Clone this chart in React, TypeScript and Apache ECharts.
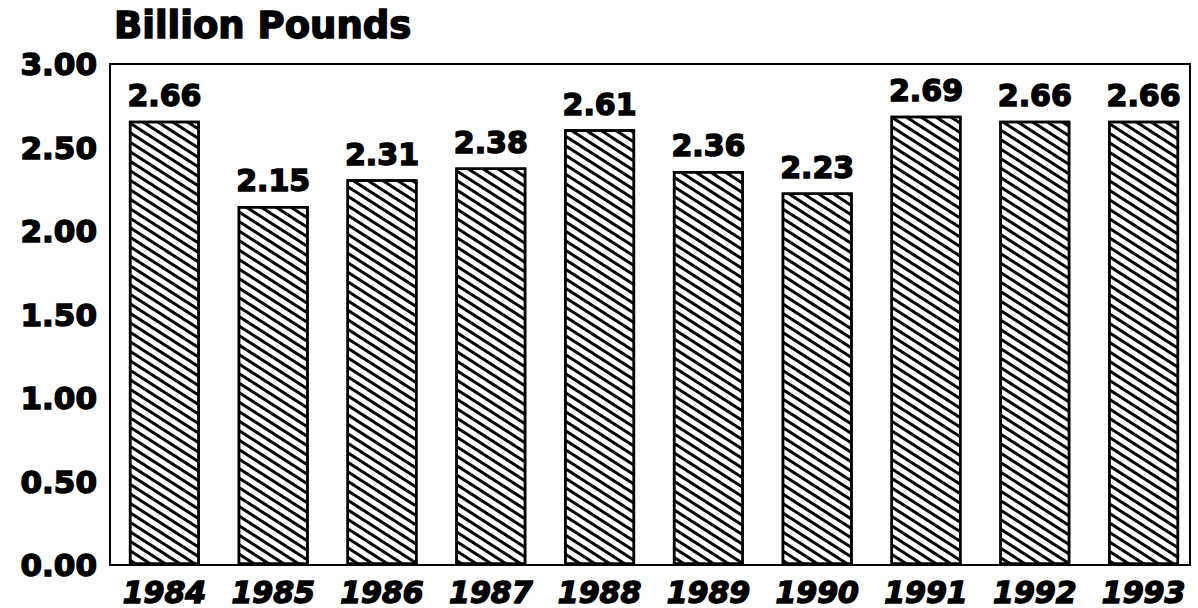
import React, { useEffect, useRef } from "react";
import * as echarts from "echarts";

const years = ["1984", "1985", "1986", "1987", "1988", "1989", "1990", "1991", "1992", "1993"];
const values = [2.66, 2.15, 2.31, 2.38, 2.61, 2.36, 2.23, 2.69, 2.66, 2.66];
const yTicks = { min: 0, max: 3, interval: 0.5 };
const titleText = "Billion Pounds";

const FONT = "'DejaVu Sans', sans-serif";
const heavy = { textBorderColor: "#000", textBorderWidth: 1.5 };

export default function App() {
  const ref = useRef<HTMLDivElement>(null);
  useEffect(() => {
    if (!ref.current) return;
    const chart = echarts.init(ref.current, null, { renderer: "svg" });
    chart.setOption({
      animation: false,
      backgroundColor: "#fff",
      title: {
        text: titleText,
        left: 109,
        top: 2,
        textStyle: { fontFamily: FONT, fontWeight: "bold", fontSize: 37, color: "#000", ...heavy },
      },
      grid: { left: 110, top: 64, right: 0, bottom: 43, containLabel: false },
      xAxis: {
        type: "category",
        data: years,
        axisLine: { show: false },
        axisTick: { show: false },
        axisLabel: {
          margin: 14,
          fontFamily: FONT,
          fontWeight: "bold",
          fontStyle: "italic",
          fontSize: 30,
          lineHeight: 26,
          color: "#000",
          ...heavy,
        },
      },
      yAxis: {
        type: "value",
        min: yTicks.min,
        max: yTicks.max,
        interval: yTicks.interval,
        splitLine: { show: false },
        axisLine: { show: false },
        axisTick: { show: false },
        axisLabel: {
          margin: 13,
          padding: [8, 0, 0, 0],
          fontFamily: FONT,
          fontWeight: "bold",
          fontSize: 31,
          color: "#000",
          ...heavy,
          formatter: (v: number) => v.toFixed(2),
        },
      },
      graphic: [
        {
          type: "rect",
          shape: { x: 110, y: 64, width: 1080, height: 501 },
          style: { fill: "none", stroke: "#000", lineWidth: 2 },
          z: 10,
        },
      ],
      series: [
        {
          type: "bar",
          data: values,
          barWidth: 71,
          itemStyle: {
            color: "#fff",
            borderColor: "#000",
            borderWidth: 2.5,
            decal: {
              symbol: "rect",
              symbolSize: 1,
              color: "#000",
              backgroundColor: "#fff",
              dashArrayX: [1, 0],
              dashArrayY: [2.4, 4.2],
              rotation: 0.57,
            },
          },
          label: {
            show: true,
            position: "top",
            distance: 10,
            fontFamily: FONT,
            fontWeight: "bold",
            fontSize: 30,
            color: "#000",
            ...heavy,
            formatter: (p: any) => p.value.toFixed(2),
          },
        },
      ],
    });
    return () => chart.dispose();
  }, []);
  return (
    <div
      ref={ref}
      style={{ position: "fixed", left: 0, top: 0, width: 1198, height: 608 }}
    />
  );
}
